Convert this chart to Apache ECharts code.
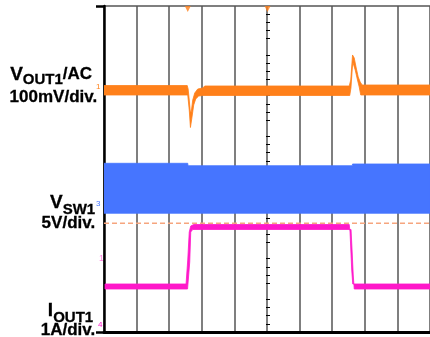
<!DOCTYPE html>
<html><head><meta charset="utf-8">
<script src="https://cdn.jsdelivr.net/npm/echarts@6/dist/echarts.min.js"></script>
<style>html,body{margin:0;padding:0;background:#fff}#c{width:430px;height:337px}</style>
</head><body><div id="c"></div>
<script>
// Horizontal: time in divisions (0..10), vertical: screen level in divisions (0..8)
const voutUpperT = [0, 2.553, 2.581, 2.612, 2.645, 2.676, 2.722, 2.783, 2.875, 3.028, 3.089, 7.523, 7.569, 7.624, 7.676, 7.737, 7.798, 7.859, 7.920, 10];
const voutUpperV = [6.049, 6.049, 5.963, 5.718, 5.423, 5.399, 5.693, 5.865, 5.963, 5.988, 6.037, 6.037, 6.184, 6.798, 6.724, 6.479, 6.258, 6.135, 6.061, 6.061];
const voutLowerT = [0, 2.569, 2.615, 2.651, 2.691, 2.752, 2.813, 2.905, 3.028, 7.538, 7.575, 7.630, 7.706, 7.768, 7.829, 7.875, 10];
const voutLowerV = [5.816, 5.816, 5.448, 5.018, 5.227, 5.571, 5.718, 5.791, 5.804, 5.804, 5.988, 6.626, 6.429, 6.209, 6.012, 5.816, 5.816];

const vswUpperT = [0, 2.569, 2.578, 7.615, 7.624, 10];
const vswUpperV = [4.140, 4.140, 4.081, 4.081, 4.123, 4.123];
const vswLowerT = [0, 10];
const vswLowerV = [2.913, 2.913];

const ioutUpperT = [0.031, 2.517, 2.569, 2.615, 2.661, 2.752, 7.523, 7.547, 7.599, 7.630, 10];
const ioutUpperV = [1.178, 1.178, 1.767, 2.454, 2.601, 2.638, 2.638, 2.454, 1.521, 1.178, 1.178];
const ioutLowerT = [0.031, 2.563, 2.630, 2.661, 2.722, 7.578, 7.609, 7.645, 7.676, 10];
const ioutLowerV = [1.055, 1.055, 1.718, 2.454, 2.515, 2.515, 2.012, 1.399, 1.055, 1.055];

const refLevelT = [0, 10];
const refLevelV = [2.667, 2.667];

const triggerT = [2.569, 5.015];
const triggerV = [7.926, 7.926];

const FONT = '"Liberation Sans", Arial, sans-serif';
const COL_OUT = '#FF801A', COL_SW = '#4675FF', COL_I = '#FF18C9';

function polySeries(upperT, upperV, lowerT, lowerV, color, z) {
  const up = upperT.map((t, i) => [t, upperV[i]]);
  const lo = lowerT.map((t, i) => [t, lowerV[i]]).reverse();
  const pts = up.concat(lo);
  return {
    type: 'custom', z: z, silent: true, animation: false, clip: true,
    xAxisIndex: 0, yAxisIndex: 0, data: pts, encode: { x: 0, y: 1 },
    renderItem: function (params, api) {
      if (params.dataIndex !== 0) return null;
      return { type: 'polygon', shape: { points: pts.map(p => api.coord(p)) },
               style: { fill: color, stroke: color, lineWidth: 0.8 } };
    }
  };
}

const ctx = document.createElement('canvas').getContext('2d');
function tw(t, s) { ctx.font = 'bold ' + s + 'px "Liberation Sans"'; return ctx.measureText(t).width; }
function labelRow(pieces, right) {
  const total = pieces.reduce((a, p) => a + tw(p.t, p.s), 0);
  let x = right - total; const out = [];
  pieces.forEach(p => {
    out.push({ type: 'text', left: x, top: p.b - 0.94 * p.s, silent: true,
      style: { text: p.t, font: 'bold ' + p.s + 'px ' + FONT, fill: '#000', stroke: '#000', lineWidth: 0.3 } });
    x += tw(p.t, p.s);
  });
  return out;
}

const graphics = [].concat(
  labelRow([{ t: 'V', s: 19, b: 82.5 }, { t: 'OUT1', s: 15, b: 86.5 }, { t: '/AC', s: 17, b: 81.5 }], 92),
  labelRow([{ t: '100mV/div.', s: 17, b: 104.5 }], 97),
  labelRow([{ t: 'V', s: 19, b: 211 }, { t: 'SW1', s: 15, b: 216 }], 95),
  labelRow([{ t: '5V/div.', s: 17, b: 231 }], 95),
  labelRow([{ t: 'I', s: 19, b: 319 }, { t: 'OUT1', s: 15, b: 324 }], 93),
  labelRow([{ t: '1A/div.', s: 17, b: 337.5 }], 95),
  [
    { type: 'text', left: 96, top: 83, silent: true, style: { text: '1', font: '8px ' + FONT, fill: COL_OUT } },
    { type: 'text', left: 96, top: 200, silent: true, style: { text: '3', font: '8px ' + FONT, fill: COL_SW } },
    { type: 'text', left: 99, top: 254, silent: true, style: { text: '1', font: '9px ' + FONT, fill: '#ff7fe0' } },
    { type: 'text', left: 98, top: 321, silent: true, style: { text: '4', font: '8px ' + FONT, fill: COL_I } }
  ]
);

const chart = echarts.init(document.getElementById('c'), null, { renderer: 'canvas' });
chart.setOption({
  animation: false,
  backgroundColor: '#fff',
  grid: { left: 104, top: 6, width: 327, height: 326 },
  xAxis: [
    { type: 'value', min: 0, max: 10, interval: 1, position: 'bottom',
      axisLine: { show: true, lineStyle: { color: '#000', width: 3 } },
      axisTick: { show: false }, axisLabel: { show: false },
      splitLine: { show: true, lineStyle: { color: '#555', width: 1.5 } } },
    { type: 'value', min: 0, max: 10, interval: 1, position: 'top',
      axisLine: { show: true, lineStyle: { color: '#000', width: 2 } },
      axisTick: { show: false }, axisLabel: { show: false }, splitLine: { show: false } }
  ],
  yAxis: [
    { type: 'value', min: 0, max: 8, interval: 1, position: 'left',
      axisLine: { show: true, lineStyle: { color: '#000', width: 2.5 } },
      axisTick: { show: true, length: 8, customValues: [0, 8], lineStyle: { color: '#000', width: 2.5 } },
      axisLabel: { show: false },
      splitLine: { show: true, lineStyle: { color: '#555', width: 1.5 } } },
    { type: 'value', min: 0, max: 8, interval: 1, position: 'left', offset: -166,
      axisLine: { show: false }, axisTick: { show: false }, axisLabel: { show: false },
      splitLine: { show: false },
      minorTick: { show: true, splitNumber: 5, length: 4, lineStyle: { color: '#000', width: 1 } } }
  ],
  series: [
    polySeries(vswUpperT, vswUpperV, vswLowerT, vswLowerV, COL_SW, 3),
    polySeries(voutUpperT, voutUpperV, voutLowerT, voutLowerV, COL_OUT, 4),
    polySeries(ioutUpperT, ioutUpperV, ioutLowerT, ioutLowerV, COL_I, 5),
    { type: 'line', z: 6, silent: true, symbol: 'none', animation: false,
      data: refLevelT.map((t, i) => [t, refLevelV[i]]),
      lineStyle: { color: '#F6A57E', width: 1.5, type: [5, 3] } },
    { type: 'scatter', z: 7, silent: true, symbol: 'triangle', symbolRotate: 180, symbolSize: 6,
      data: triggerT.map((t, i) => [t, triggerV[i]]),
      itemStyle: { color: COL_OUT } }
  ],
  graphic: graphics
});
</script>
</body></html>
